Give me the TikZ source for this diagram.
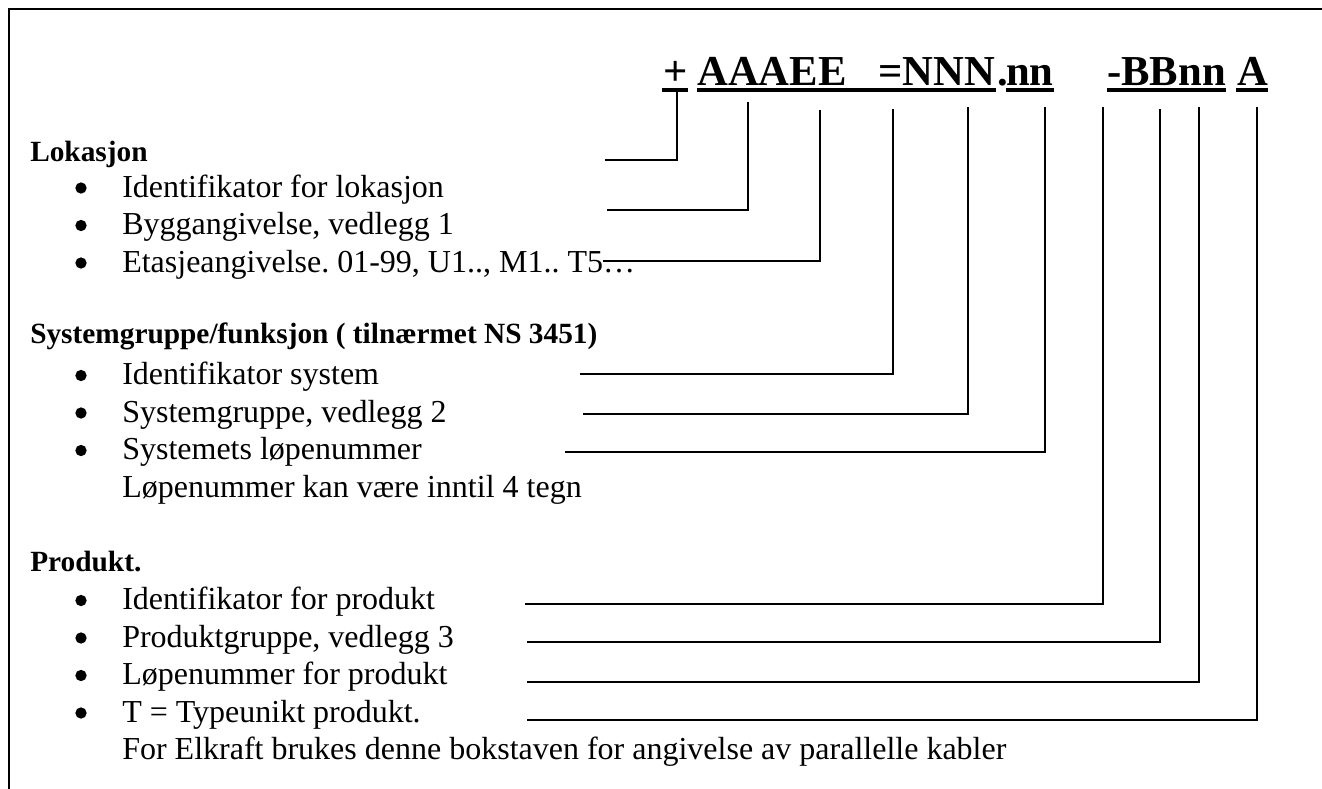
\documentclass[tikz,border=0pt]{standalone}
\usepackage{fontspec}
\setmainfont{Liberation Serif}
\usetikzlibrary{positioning}
\frenchspacing

\begin{document}
\begin{tikzpicture}[x=0.75pt, y=-0.75pt,
                    tag/.style={font=\fontsize{32}{36}\selectfont\bfseries, inner sep=0pt, anchor=base west},
                    head/.style={font=\fontsize{22}{26}\selectfont\bfseries, inner sep=0pt, anchor=base west},
                    item/.style={font=\fontsize{24}{28}\selectfont, inner sep=0pt, anchor=base west},
                    bul/.style={circle, fill, inner sep=0pt, minimum size=8.5pt},
                    ul/.style={line width=3pt},
                    lead/.style={line width=1.4pt}]
  \useasboundingbox (0,0) rectangle (1322,789);
  \draw[line width=1.6pt] (9,789) -- (9,9) -- (1322,9);
  % code string
  \node[tag] (plus) at (663,85) {+};
  \node[tag] (loc)  at (697,85) {AAAEE};
  \node[tag] (sys)  at (878,85) {=NNN};
  \node[tag] (dot)  at (997,85) {.};
  \node[tag] (nr)   at (1006,85) {nn};
  \node[tag] (prod) at (1107,85) {-BBnn};
  \node[tag] (typ)  at (1237,85) {A};
  \draw[ul] (662,90) -- (688,90);
  \draw[ul] (697,90) -- (996,90);
  \draw[ul] (1006,90) -- (1054,90);
  \draw[ul] (1107,90) -- (1226,90);
  \draw[ul] (1236,90) -- (1268,90);
  % headings
  \node[head] (hlok)  at (30,161) {Lokasjon};
  \node[head] (hsys)  at (30,343) {Systemgruppe/funksjon ( tilnærmet NS 3451)};
  \node[head] (hprod) at (30,571) {Produkt.};
  % bullet items
  \foreach \n/\yy/\txt in {i1/197/{Identifikator for lokasjon},
                           i2/234.5/{Byggangivelse, vedlegg 1},
                           i3/272/{Etasjeangivelse. 01-99, U1.., M1.. T5…},
                           i4/384.5/{Identifikator system},
                           i5/422/{Systemgruppe, vedlegg 2},
                           i6/459.5/{Systemets løpenummer},
                           i7/609.5/{Identifikator for produkt},
                           i8/647/{Produktgruppe, vedlegg 3},
                           i9/684.5/{Løpenummer for produkt},
                           i10/722/{T = Typeunikt produkt.}}{
    \node[bul] (b\n) at (81,\yy-9) {};
    \node[item] (\n) at (122,\yy) {\txt};
  }
  \node[item] (n6) at (122,497) {Løpenummer kan være inntil 4 tegn};
  \node[item] (n10) at (122,759.5) {For Elkraft brukes denne bokstaven for angivelse av parallelle kabler};
  % leaders
  \foreach \k/\tx/\ty/\ex/\ey in {1/677/92/605/160, 2/748/102/607/210, 3/820/110/603/261,
                                  4/893/109/580/374, 5/968/107/583/414, 6/1045/107/565/452,
                                  7/1103/107/525/604, 8/1160/109/527/642, 9/1199/107/527/682,
                                  10/1257/107/527/720}{
    \coordinate (tap\k) at (\tx,\ty);
    \coordinate (end\k) at (\ex,\ey);
    \draw[lead] (tap\k) |- (end\k);
  }
\end{tikzpicture}
\end{document}
